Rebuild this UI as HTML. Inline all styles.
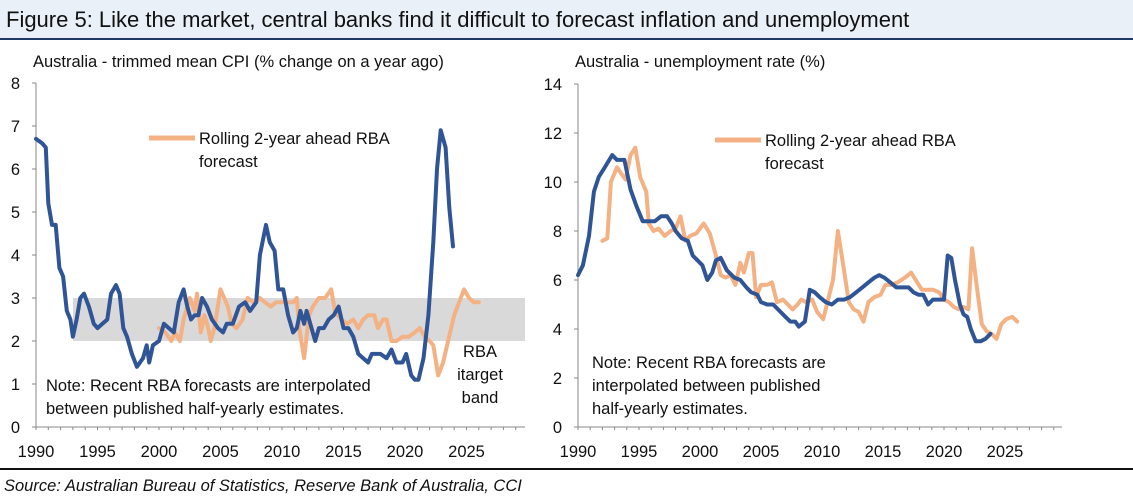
<!DOCTYPE html>
<html><head><meta charset="utf-8"><style>
body{margin:0;background:#fff;width:1133px;height:498px;overflow:hidden;font-family:"Liberation Sans",sans-serif}
#title{position:absolute;left:0;top:0;width:1133px;height:38px;background:#e9f0f8;border-bottom:2px solid #1f3864}
#title span{position:absolute;left:6px;top:7px;font-size:22px;color:#111}
#src{position:absolute;left:4px;top:477px;font-size:16.5px;font-style:italic;color:#111}
#rule{position:absolute;left:0;top:468px;width:1133px;height:2px;background:#111}
svg{position:absolute;left:0;top:0}
</style></head><body>
<div id="title"><span>Figure 5: Like the market, central banks find it difficult to forecast inflation and unemployment</span></div>
<div id="rule"></div>
<div id="src">Source: Australian Bureau of Statistics, Reserve Bank of Australia, CCI</div>
<svg id="chart" width="1133" height="470"></svg>
<script>
const cpiYears=[1990,1990.5,1990.8,1991,1991.3,1991.6,1991.9,1992.2,1992.5,1992.8,1993,1993.3,1993.6,1993.9,1994.3,1994.7,1995,1995.4,1995.8,1996.1,1996.5,1996.8,1997.1,1997.4,1997.8,1998.2,1998.7,1999,1999.2,1999.5,2000,2000.4,2000.8,2001.2,2001.6,2002,2002.3,2002.6,2002.9,2003.2,2003.5,2003.9,2004.3,2004.8,2005.2,2005.5,2006,2006.5,2007,2007.4,2007.9,2008.2,2008.7,2009,2009.4,2009.7,2010.1,2010.5,2010.9,2011.2,2011.5,2011.8,2012,2012.4,2012.7,2013,2013.4,2013.8,2014.2,2014.6,2015,2015.4,2015.8,2016.2,2016.6,2017,2017.3,2018,2018.5,2018.9,2019.3,2019.8,2020.1,2020.5,2020.8,2021.1,2021.5,2021.9,2022.3,2022.6,2022.9,2023.3,2023.6,2023.9];
const cpiValues=[6.7,6.6,6.5,5.2,4.7,4.7,3.7,3.5,2.7,2.5,2.1,2.5,3.0,3.1,2.8,2.4,2.3,2.4,2.5,3.1,3.3,3.1,2.3,2.1,1.7,1.4,1.6,1.9,1.5,1.9,2.0,2.4,2.3,2.2,2.9,3.2,2.8,2.5,2.6,2.6,3.0,2.8,2.5,2.3,2.2,2.4,2.4,2.8,2.9,2.7,2.9,4.0,4.7,4.3,4.1,3.2,3.2,2.6,2.2,2.3,2.7,2.4,2.7,2.3,2.0,2.3,2.3,2.5,2.6,2.8,2.3,2.3,2.1,1.7,1.6,1.5,1.7,1.7,1.6,1.8,1.5,1.5,1.7,1.2,1.1,1.1,1.6,2.6,4.3,6.0,6.9,6.5,5.1,4.2];
const cpiFcYears=[2000,2000.5,2001,2001.3,2001.7,2002,2002.5,2002.9,2003.1,2003.4,2003.7,2004,2004.2,2004.5,2005,2005.3,2005.6,2005.9,2006.3,2006.8,2007.2,2007.7,2008.2,2008.6,2009.1,2009.5,2010,2010.4,2010.9,2011.2,2011.4,2011.8,2012.2,2012.5,2013,2013.5,2014,2014.3,2014.8,2015.3,2015.8,2016.2,2016.6,2017,2017.5,2017.8,2018.2,2018.5,2018.9,2019.3,2019.8,2020.3,2020.8,2021.2,2021.6,2022,2022.3,2022.7,2023.1,2023.5,2024,2024.4,2024.8,2025.2,2025.6,2026];
const cpiFcValues=[2.3,2.2,2.0,2.2,2.0,2.5,3.0,2.7,3.1,2.2,2.6,2.3,2.0,2.3,3.2,3.0,2.8,2.4,2.3,2.5,3.0,2.9,3.0,2.9,2.8,2.9,2.9,2.9,2.9,3.0,2.3,1.6,2.6,2.8,3.0,3.0,3.2,2.7,2.5,2.4,2.5,2.3,2.5,2.6,2.6,2.3,2.5,2.5,2.0,2.0,2.1,2.1,2.2,2.3,2.1,2.0,1.9,1.2,1.5,2.0,2.6,2.9,3.2,3.0,2.9,2.9];
const unYears=[1990,1990.4,1990.9,1991.3,1991.7,1992.2,1992.8,1993.2,1993.8,1994.3,1994.8,1995.3,1995.8,1996.3,1996.8,1997.3,1997.7,1998,1998.5,1999,1999.4,1999.8,2000.2,2000.6,2001,2001.3,2001.7,2002.2,2002.8,2003.3,2003.8,2004.2,2004.7,2005,2005.5,2006,2006.6,2007,2007.4,2007.8,2008.1,2008.6,2009,2009.4,2009.8,2010.3,2010.8,2011.3,2011.8,2012.3,2012.8,2013.3,2013.8,2014.3,2014.7,2015.1,2015.6,2016.1,2016.7,2017.1,2017.5,2017.9,2018.3,2018.7,2019.1,2019.6,2020,2020.3,2020.6,2020.9,2021.3,2021.6,2021.9,2022.2,2022.6,2023,2023.4,2023.8];
const unValues=[6.2,6.6,7.8,9.6,10.2,10.6,11.1,10.9,10.9,9.7,9.0,8.4,8.4,8.4,8.6,8.6,8.3,8.0,7.7,7.6,7.0,6.8,6.6,6.0,6.3,6.8,6.9,6.4,6.1,6.0,5.7,5.5,5.4,5.1,5.0,5.0,4.7,4.5,4.3,4.3,4.1,4.3,5.6,5.5,5.3,5.1,5.0,5.2,5.2,5.3,5.5,5.7,5.9,6.1,6.2,6.1,5.9,5.7,5.7,5.7,5.5,5.4,5.4,5.0,5.2,5.2,5.2,7.0,6.9,6.0,5.0,4.6,4.5,4.0,3.5,3.5,3.6,3.8];
const unFcYears=[1992,1992.4,1992.7,1993.2,1993.6,1993.9,1994.3,1994.7,1995.1,1995.6,1995.8,1996.2,1996.6,1997.1,1997.6,1998,1998.4,1998.8,1999.2,1999.7,2000.3,2000.8,2001.3,2001.7,2002.1,2002.5,2002.9,2003.3,2003.6,2004,2004.3,2004.6,2005,2005.5,2005.9,2006.3,2006.8,2007.2,2007.6,2008,2008.3,2008.7,2009.2,2009.6,2010.1,2010.5,2010.9,2011.3,2011.8,2012.2,2012.6,2013,2013.4,2013.8,2014.3,2014.8,2015.2,2015.7,2016.2,2016.8,2017.3,2017.8,2018.2,2018.6,2019.1,2019.6,2020,2020.4,2020.8,2021.2,2021.6,2022,2022.3,2022.7,2023.1,2023.5,2023.9,2024.3,2024.7,2025.1,2025.6,2026];
const unFcValues=[7.6,7.7,10.0,10.6,10.3,10.1,11.1,11.4,10.2,9.6,8.3,8.0,8.1,7.8,8.0,8.1,8.6,7.6,7.8,7.9,8.3,7.9,7.0,6.2,6.1,6.2,5.8,6.7,6.3,7.1,7.1,5.3,5.8,5.8,5.9,5.1,5.2,5.0,4.8,5.0,5.2,5.1,5.2,4.7,4.4,5.2,6.0,8.0,6.4,5.1,4.8,4.7,4.3,5.1,5.3,5.4,5.8,5.8,5.9,6.1,6.3,5.9,5.6,5.6,5.6,5.5,5.2,5.1,4.9,4.8,4.9,4.8,7.3,5.7,4.2,3.9,3.8,3.6,4.2,4.4,4.5,4.3];
const xTicks=[1990,1995,2000,2005,2010,2015,2020,2025];
const cpiTicks=[0,1,2,3,4,5,6,7,8];
const unTicks=[0,2,4,6,8,10,12,14];
const band=[2,3];

const svg=document.getElementById('chart');
const NS='http://www.w3.org/2000/svg';
function mk(tag,attrs,parent){const e=document.createElementNS(NS,tag);for(const k in attrs)e.setAttribute(k,attrs[k]);(parent||svg).appendChild(e);return e;}
function text(x,y,s,anchor,parent,fs){const t=mk('text',{x:x,y:y,'font-size':fs||15.5,fill:'#111','text-anchor':anchor||'start'},parent);t.textContent=s;return t;}

function panel(cfg){
  const g=mk('g',{});
  
  
  const X=v=>cfg.x0+(v-1990)*cfg.px;
  const Y=v=>427-v*cfg.py;
  const xe=cfg.xEnd;
  if(cfg.band){
    const r=mk('rect',{x:X(1993),y:Y(band[1]),width:xe-X(1993),height:Y(band[0])-Y(band[1]),fill:'#d9d9d9'},g);
    
    
  }
  const ya=mk('line',{x1:X(1990),y1:Y(0),x2:X(1990),y2:Y(cfg.ticks[cfg.ticks.length-1]),stroke:'#888'},g);
  
  
  const xa=mk('line',{x1:X(1990),y1:Y(0),x2:xe,y2:Y(0),stroke:'#888'},g);
  
  
  cfg.ticks.forEach(v=>{
    mk('line',{x1:X(1990)-4,y1:Y(v),x2:X(1990),y2:Y(v),stroke:'#888'},g);
    const t=text(X(1990)-16,Y(v)+6,String(v),'end',g,16.5);
    
    
  });
  for(let yr=1990;yr<=2029;yr++){mk('line',{x1:X(yr),y1:Y(0),x2:X(yr),y2:Y(0)+3,stroke:'#888'},g);}
  xTicks.forEach(v=>{
    const t=text(X(v),Y(0)+30,String(v),'middle',g,16.5);
    
    
  });
  const line=(xs,ys,col,nm)=>{
    const p=mk('path',{d:xs.map((x,i)=>(i?'L':'M')+X(x).toFixed(1)+','+Y(ys[i]).toFixed(1)).join(''),fill:'none',stroke:col,'stroke-width':4,'stroke-linejoin':'round','stroke-linecap':'round'},g);
    
    
  };
  line(cfg.fx,cfg.fy,'#f4b183','series-rba-forecast');
  line(cfg.ax,cfg.ay,'#2f5597','series-actual');
  const tt=text(cfg.x0-3,67,cfg.title,'start',g,16.5);
  
  
  const lg=mk('line',{x1:cfg.lgx,y1:cfg.lgy,x2:cfg.lgx+46,y2:cfg.lgy,stroke:'#f4b183','stroke-width':5},g);
  
  
  const l1=text(cfg.lgx+50,cfg.lgy+6,'Rolling 2-year ahead RBA','start',g,16.5);
  
  
  text(cfg.lgx+50,cfg.lgy+29,'forecast','start',g,16.5);
  cfg.notes.forEach((s,i)=>{const n=text(cfg.nx,cfg.ny+i*23,s,'start',g,16.5);});
}
panel({name:'cpi-chart',x0:36,px:12.3,py:43,xEnd:525,ticks:cpiTicks,band:true,ax:cpiYears,ay:cpiValues,fx:cpiFcYears,fy:cpiFcValues,title:'Australia - trimmed mean CPI (% change on a year ago)',lgx:149,lgy:138,notes:['Note: Recent RBA forecasts are interpolated','between published half-yearly estimates.'],nx:46,ny:391});
panel({name:'unemployment-chart',x0:578,px:12.2,py:24.5,xEnd:1062,ticks:unTicks,band:false,ax:unYears,ay:unValues,fx:unFcYears,fy:unFcValues,title:'Australia - unemployment rate (%)',lgx:715,lgy:140,notes:['Note: Recent RBA forecasts are','interpolated between published','half-yearly estimates.'],nx:592,ny:368});
['RBA','itarget','band'].forEach((s,i)=>{const t=text(480,357+i*23,s,'middle',undefined,16.5);});
</script>
</body></html>
